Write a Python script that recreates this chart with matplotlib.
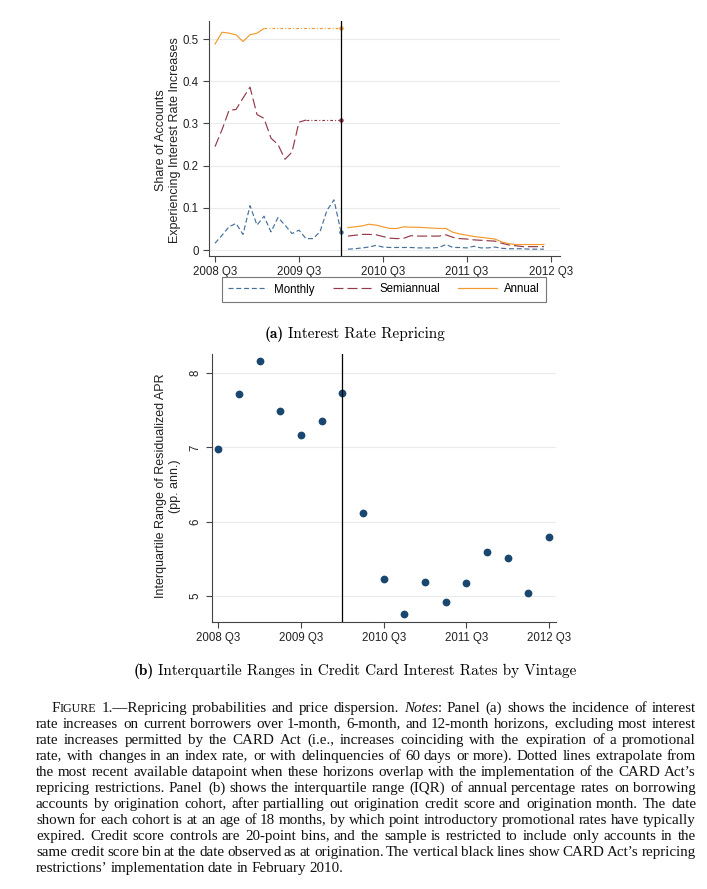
import math
import numpy as np
import matplotlib
matplotlib.use("Agg")
import matplotlib.pyplot as plt
from matplotlib.lines import Line2D

plt.rcParams['font.family'] = ['Liberation Sans', 'DejaVu Sans']
plt.rcParams['lines.scale_dashes'] = False

# x axis is months since 2008 Q3
tick_months = [0, 12, 24, 36, 48]
tick_labels = ["2008 Q3", "2009 Q3", "2010 Q3", "2011 Q3", "2012 Q3"]
card_act = 18  # February 2010

# panel (a): share of accounts with rate increases, before the CARD Act
monthly_pre = [0.016, 0.035, 0.055, 0.063, 0.037, 0.105, 0.059, 0.080, 0.043, 0.077,
               0.059, 0.039, 0.047, 0.027, 0.027, 0.043, 0.094, 0.119, 0.043]
semi_pre = [0.245, 0.285, 0.331, 0.333, 0.360, 0.386, 0.321, 0.312, 0.265, 0.250,
            0.215, 0.232, 0.303, 0.308]
annual_pre = [0.488, 0.516, 0.514, 0.510, 0.494, 0.510, 0.514, 0.525]

# after the CARD Act (months 19..47)
monthly_post = [0.002, 0.003, 0.005, 0.007, 0.011, 0.007, 0.006, 0.006, 0.006, 0.006,
                0.005, 0.005, 0.005, 0.006, 0.013, 0.006, 0.006, 0.005, 0.009, 0.005,
                0.005, 0.007, 0.004, 0.003, 0.003, 0.003, 0.002, 0.002, 0.002]
semi_post = [0.033, 0.035, 0.037, 0.037, 0.036, 0.032, 0.028, 0.027, 0.028, 0.034,
             0.033, 0.033, 0.033, 0.033, 0.036, 0.030, 0.027, 0.026, 0.024, 0.023,
             0.022, 0.021, 0.016, 0.012, 0.010, 0.008, 0.008, 0.008, 0.008]
annual_post = [0.053, 0.055, 0.057, 0.061, 0.059, 0.055, 0.051, 0.051, 0.055, 0.054,
               0.054, 0.053, 0.052, 0.051, 0.051, 0.042, 0.038, 0.035, 0.032, 0.030,
               0.028, 0.026, 0.019, 0.015, 0.013, 0.013, 0.013, 0.013, 0.013]

# panel (b): IQR of residualized APR by vintage
iqr_months = [0, 3, 6, 9, 12, 15, 18, 21, 24, 27, 30, 33, 36, 39, 42, 45, 48]
iqr_values = [6.98, 7.72, 8.16, 7.49, 7.17, 7.36, 7.73, 6.12, 5.23, 4.75, 5.19,
              4.92, 5.17, 5.59, 5.51, 5.04, 5.79]

W, H = 707, 889
fig = plt.figure(figsize=(W / 100, H / 100), dpi=100)
fig.patch.set_facecolor('white')

c_month = '#46709a'
c_semi = '#94384a'
c_annual = '#f39a2e'
d_month = (0, (3.6, 2.0))
d_semi = (0, (7.2, 2.9))
d_dot = (0, (2.0, 1.5, 0.7, 1.5))
lw = 0.85
tick_fs = 8.3
grid_c = '#e9ecef'
spine_c = '#444444'


def style_axes(ax):
    for s in ['top', 'right']:
        ax.spines[s].set_visible(False)
    for s in ['left', 'bottom']:
        ax.spines[s].set_color(spine_c)
        ax.spines[s].set_linewidth(0.8)
    ax.tick_params(length=4, width=0.8, color=spine_c, labelsize=tick_fs, labelcolor='#222222')
    ax.yaxis.grid(True, color=grid_c, linewidth=0.8)
    ax.set_axisbelow(True)
    ax.set_xticks(tick_months)
    ax.set_xticklabels(tick_labels)


# ---- panel (a)
ax1 = fig.add_axes([209 / W, 1 - 256 / H, (560 - 209) / W, (256 - 21) / H])
style_axes(ax1)
m_pre = np.arange(len(monthly_pre))
m_post = np.arange(19, 19 + len(monthly_post))

ax1.plot(m_pre, monthly_pre, color=c_month, lw=lw, linestyle=d_month)
ax1.plot(m_post, monthly_post, color=c_month, lw=lw, linestyle=d_month)
ax1.plot(np.arange(len(semi_pre)), semi_pre, color=c_semi, lw=lw, linestyle=d_semi)
ax1.plot(m_post, semi_post, color=c_semi, lw=lw, linestyle=d_semi)
ax1.plot(np.arange(len(annual_pre)), annual_pre, color=c_annual, lw=lw)
ax1.plot(m_post, annual_post, color=c_annual, lw=lw)

# dotted extrapolation up to the CARD Act date
for vals, c in [(semi_pre, c_semi), (annual_pre, c_annual)]:
    ax1.plot([len(vals) - 1, card_act], [vals[-1], vals[-1]], color=c, lw=lw, linestyle=d_dot)
    ax1.plot([card_act], [vals[-1]], 'o', color=c, ms=2.2)
ax1.plot([card_act], [monthly_pre[-1]], 'o', color=c_month, ms=2.2)

ax1.axvline(card_act, color='black', lw=0.9)
ax1.set_xlim(-0.86, 49.3)
ax1.set_ylim(-0.0142, 0.5427)
ax1.set_yticks([0, 0.1, 0.2, 0.3, 0.4, 0.5])
ax1.set_yticklabels(["0", "0.1", "0.2", "0.3", "0.4", "0.5"])

fig.text(168 / W, 1 - 140 / H, "Share of Accounts\nExperiencing Interest Rate Increases",
         rotation=90, ha='center', va='center', multialignment='center', fontsize=9,
         color='#222222')

handles = [Line2D([], [], color=c_month, lw=lw, linestyle=d_month),
           Line2D([], [], color=c_semi, lw=lw, linestyle=d_semi),
           Line2D([], [], color=c_annual, lw=lw)]
leg = fig.legend(handles, ["Monthly", "Semiannual", "Annual"], loc='center',
                 bbox_to_anchor=(384 / W, 1 - 289.5 / H), ncol=3, fontsize=tick_fs,
                 frameon=True, fancybox=False, edgecolor='#777777', framealpha=1,
                 handlelength=3.4, columnspacing=1.6, handletextpad=0.6, borderpad=0.55)
leg.get_frame().set_linewidth(0.8)

# ---- panel (b)
ax2 = fig.add_axes([211.7 / W, 1 - 621.7 / H, (556 - 211.7) / W, (621.7 - 354) / H])
style_axes(ax2)
ax2.plot(iqr_months, iqr_values, 'o', color='#1a476f', ms=5.6, mec='none')
ax2.axvline(card_act, color='black', lw=0.9)
ax2.set_xlim(-0.96, 49.0)
ax2.set_ylim(4.65, 8.26)
ax2.set_yticks([5, 6, 7, 8])
ax2.tick_params(axis='y', labelrotation=90)
for t in ax2.get_yticklabels():
    t.set_va('center')

fig.text(168 / W, 1 - 486 / H, "Interquartile Range of Residualized APR\n(pp. ann.)",
         rotation=90, ha='center', va='center', multialignment='center', fontsize=9,
         color='#222222')

# ---- captions (one text per word so the lines can be justified)
renderer = fig.canvas.get_renderer()
canvas_h = renderer.get_canvas_width_height()[1]


def text_width(s, kw):
    t = fig.text(0, 0, s, **kw)
    w = t.get_window_extent(renderer).width
    t.remove()
    return w


def drawn_row(t, s, yy):
    # pixel row where Agg ends up putting the baseline of this word
    w, h, d = renderer.get_text_width_height_descent(s, t.get_fontproperties(), False)
    posy = fig.transFigure.transform((0, (H - yy) / H))[1]
    return round(canvas_h - posy + d) - math.floor(h) + math.floor(h - d)


def put(s, kw, x, y):
    # x, y in pixels from the top-left, y is the baseline row
    y = round(y)
    t = fig.text(round(x) / W, (H - y) / H, s, va='baseline', **kw)
    yy = y
    for _ in range(3):
        err = drawn_row(t, s, yy) - y
        if err == 0:
            break
        yy -= err
    t.set_position((round(x) / W, (H - yy) / H))


sub_fs = 11
for parts, y in [(["(a)", "Interest Rate Repricing"], 338),
                 (["(b)", "Interquartile Ranges in Credit Card Interest Rates by Vintage"], 675)]:
    kws = [dict(family='cmb10', fontsize=sub_fs), dict(family='cmr10', fontsize=sub_fs)]
    ws = [text_width(p, k) for p, k in zip(parts, kws)]
    x = 355 - (sum(ws) + 4) / 2
    put(parts[0], kws[0], x, y)
    put(parts[1], kws[1], x + ws[0] + 4, y)

caption = [
    "FIGURE 1.—Repricing probabilities and price dispersion. Notes: Panel (a) shows the incidence of interest",
    "rate increases on current borrowers over 1-month, 6-month, and 12-month horizons, excluding most interest",
    "rate increases permitted by the CARD Act (i.e., increases coinciding with the expiration of a promotional",
    "rate, with changes in an index rate, or with delinquencies of 60 days or more). Dotted lines extrapolate from",
    "the most recent available datapoint when these horizons overlap with the implementation of the CARD Act’s",
    "repricing restrictions. Panel (b) shows the interquartile range (IQR) of annual percentage rates on borrowing",
    "accounts by origination cohort, after partialling out origination credit score and origination month. The date",
    "shown for each cohort is at an age of 18 months, by which point introductory promotional rates have typically",
    "expired. Credit score controls are 20-point bins, and the sample is restricted to include only accounts in the",
    "same credit score bin at the date observed as at origination. The vertical black lines show CARD Act’s repricing",
    "restrictions’ implementation date in February 2010.",
]
cap_fs = 10.8
serif = dict(family='Liberation Serif', fontsize=cap_fs, color='#111111')
x_left, x_right = 36, 696

for i, line in enumerate(caption):
    y = 711.5 + i * 16.06
    x0 = 52 if i == 0 else x_left
    words = []
    for tok in line.split(' '):
        if tok == "FIGURE":
            p = [("F", serif), ("IGURE", dict(serif, fontsize=cap_fs * 0.8))]
        elif tok == "Notes:":
            p = [("Notes", dict(serif, style='italic')), (":", serif)]
        else:
            p = [(tok, serif)]
        words.append([(s, kw, text_width(s, kw)) for s, kw in p])
    total = sum(w for p in words for _, _, w in p)
    if i < len(caption) - 1:
        gap = (x_right - x0 - total) / (len(words) - 1)
    else:
        gap = 3.2
    x = x0
    for p in words:
        for s, kw, w in p:
            put(s, kw, x, y)
            x += w
        x += gap

fig.savefig("out.png", dpi=100, facecolor='white')
